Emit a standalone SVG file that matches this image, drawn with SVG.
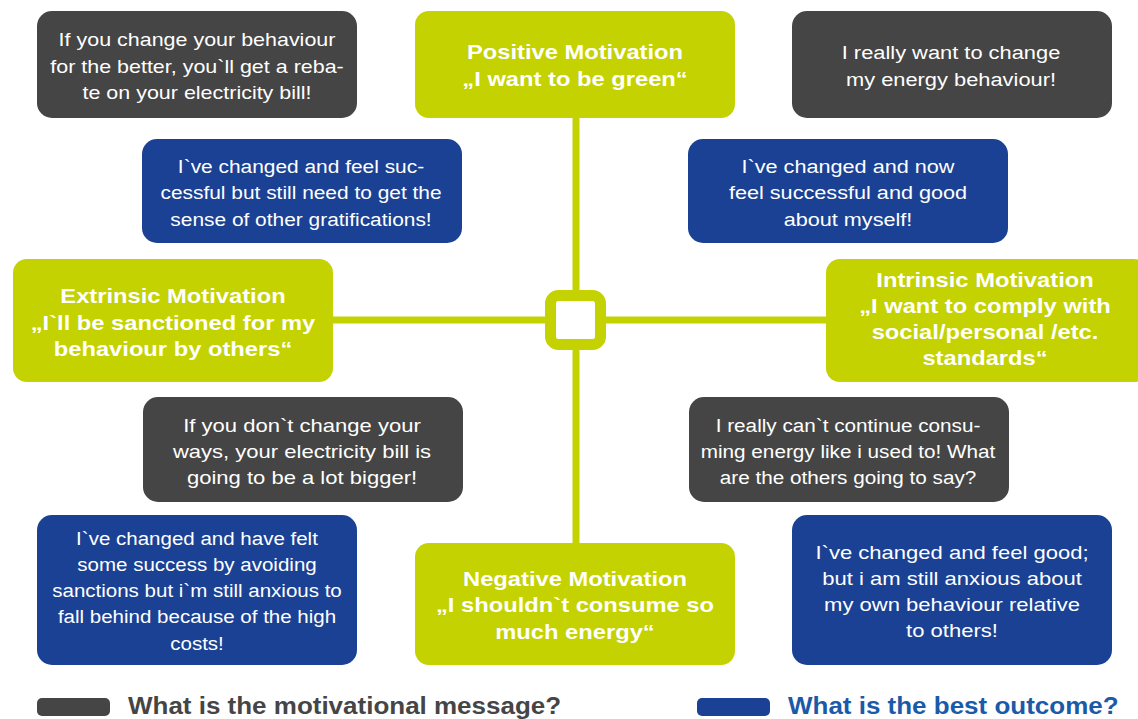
<svg xmlns="http://www.w3.org/2000/svg" width="1138" height="719" viewBox="0 0 1138 719">
<style>
.g{fill:#c3d200}
.d{fill:#454545}
.b{fill:#1a4194}
.t{font-family:"Liberation Sans",Arial,sans-serif;font-size:19px;fill:#fff;text-anchor:middle}
.h{font-family:"Liberation Sans",Arial,sans-serif;font-size:21px;font-weight:bold;fill:#fff;text-anchor:middle}
.l{font-family:"Liberation Sans",Arial,sans-serif;font-size:23px;font-weight:bold}
.ln{stroke:#c3d200;stroke-width:7;fill:none}
</style>
<rect width="1138" height="719" fill="#fff"/>
<g id="connectors">
<line class="ln" x1="576" y1="118" x2="576" y2="543"/>
<line class="ln" x1="333" y1="320" x2="826" y2="320"/>
<rect x="550.5" y="295.5" width="50" height="49" rx="8" fill="#fff" stroke="#c3d200" stroke-width="11"/>
</g>
<g id="positive">
<rect class="g" x="415" y="11" width="320" height="107" rx="14"/>
<text class="h" transform="translate(575 0) scale(1.13 1)"><tspan x="0" y="59">Positive Motivation</tspan><tspan x="0" y="86">„I want to be green“</tspan></text>
</g>
<g id="extrinsic">
<rect class="g" x="13" y="259" width="320" height="123" rx="14"/>
<text class="h" transform="translate(173 0) scale(1.13 1)"><tspan x="0" y="303">Extrinsic Motivation</tspan><tspan x="0" y="330">„I`ll be sanctioned for my</tspan><tspan x="0" y="356">behaviour by others“</tspan></text>
</g>
<g id="intrinsic">
<rect class="g" x="826" y="259" width="322" height="123" rx="14"/>
<text class="h" transform="translate(985 0) scale(1.13 1)"><tspan x="0" y="287">Intrinsic Motivation</tspan><tspan x="0" y="313">„I want to comply with</tspan><tspan x="0" y="339">social/personal /etc.</tspan><tspan x="0" y="365">standards“</tspan></text>
</g>
<g id="negative">
<rect class="g" x="415" y="543" width="320" height="122" rx="14"/>
<text class="h" transform="translate(575 0) scale(1.13 1)"><tspan x="0" y="586">Negative Motivation</tspan><tspan x="0" y="612">„I shouldn`t consume so</tspan><tspan x="0" y="639">much energy“</tspan></text>
</g>
<g id="msg-positive-extrinsic">
<rect class="d" x="37" y="11" width="320" height="107" rx="15"/>
<text class="t" transform="translate(197 0) scale(1.13 1)"><tspan x="0" y="46">If you change your behaviour</tspan><tspan x="0" y="73">for the better, you`ll get a reba-</tspan><tspan x="0" y="99">te on your electricity bill!</tspan></text>
</g>
<g id="msg-positive-intrinsic">
<rect class="d" x="792" y="11" width="320" height="107" rx="15"/>
<text class="t" transform="translate(951 0) scale(1.15 1)"><tspan x="0" y="59">I really want to change</tspan><tspan x="0" y="86">my energy behaviour!</tspan></text>
</g>
<g id="out-positive-extrinsic">
<rect class="b" x="142" y="139" width="320" height="104" rx="15"/>
<text class="t" transform="translate(301 0) scale(1.10 1)"><tspan x="0" y="173">I`ve changed and feel suc-</tspan><tspan x="0" y="199">cessful but still need to get the</tspan><tspan x="0" y="226">sense of other gratifications!</tspan></text>
</g>
<g id="out-positive-intrinsic">
<rect class="b" x="688" y="139" width="320" height="104" rx="15"/>
<text class="t" transform="translate(848 0) scale(1.14 1)"><tspan x="0" y="173">I`ve changed and now</tspan><tspan x="0" y="199">feel successful and good</tspan><tspan x="0" y="226">about myself!</tspan></text>
</g>
<g id="msg-negative-extrinsic">
<rect class="d" x="143" y="397" width="320" height="105" rx="15"/>
<text class="t" transform="translate(302 0) scale(1.16 1)"><tspan x="0" y="432">If you don`t change your</tspan><tspan x="0" y="458">ways, your electricity bill is</tspan><tspan x="0" y="484">going to be a lot bigger!</tspan></text>
</g>
<g id="msg-negative-intrinsic">
<rect class="d" x="689" y="397" width="320" height="105" rx="15"/>
<text class="t" transform="translate(848 0) scale(1.09 1)"><tspan x="0" y="432">I really can`t continue consu-</tspan><tspan x="0" y="458">ming energy like i used to! What</tspan><tspan x="0" y="484">are the others going to say?</tspan></text>
</g>
<g id="out-negative-extrinsic">
<rect class="b" x="37" y="515" width="320" height="150" rx="15"/>
<text class="t" transform="translate(197 0) scale(1.08 1)"><tspan x="0" y="545">I`ve changed and have felt</tspan><tspan x="0" y="571">some success by avoiding</tspan><tspan x="0" y="597">sanctions but i`m still anxious to</tspan><tspan x="0" y="623">fall behind because of the high</tspan><tspan x="0" y="650">costs!</tspan></text>
</g>
<g id="out-negative-intrinsic">
<rect class="b" x="792" y="515" width="320" height="150" rx="15"/>
<text class="t" transform="translate(952 0) scale(1.16 1)"><tspan x="0" y="559">I`ve changed and feel good;</tspan><tspan x="0" y="585">but i am still anxious about</tspan><tspan x="0" y="611">my own behaviour relative</tspan><tspan x="0" y="637">to others!</tspan></text>
</g>
<g id="legend">
<rect class="d" x="37" y="698" width="73" height="18" rx="5"/>
<text class="l" fill="#454545" transform="translate(128 0) scale(1.13 1)" x="0" y="714">What is the motivational message?</text>
<rect class="b" x="697" y="698" width="73" height="18" rx="5"/>
<text class="l" fill="#1a5aa8" transform="translate(788 0) scale(1.13 1)" x="0" y="714">What is the best outcome?</text>
</g>
</svg>
